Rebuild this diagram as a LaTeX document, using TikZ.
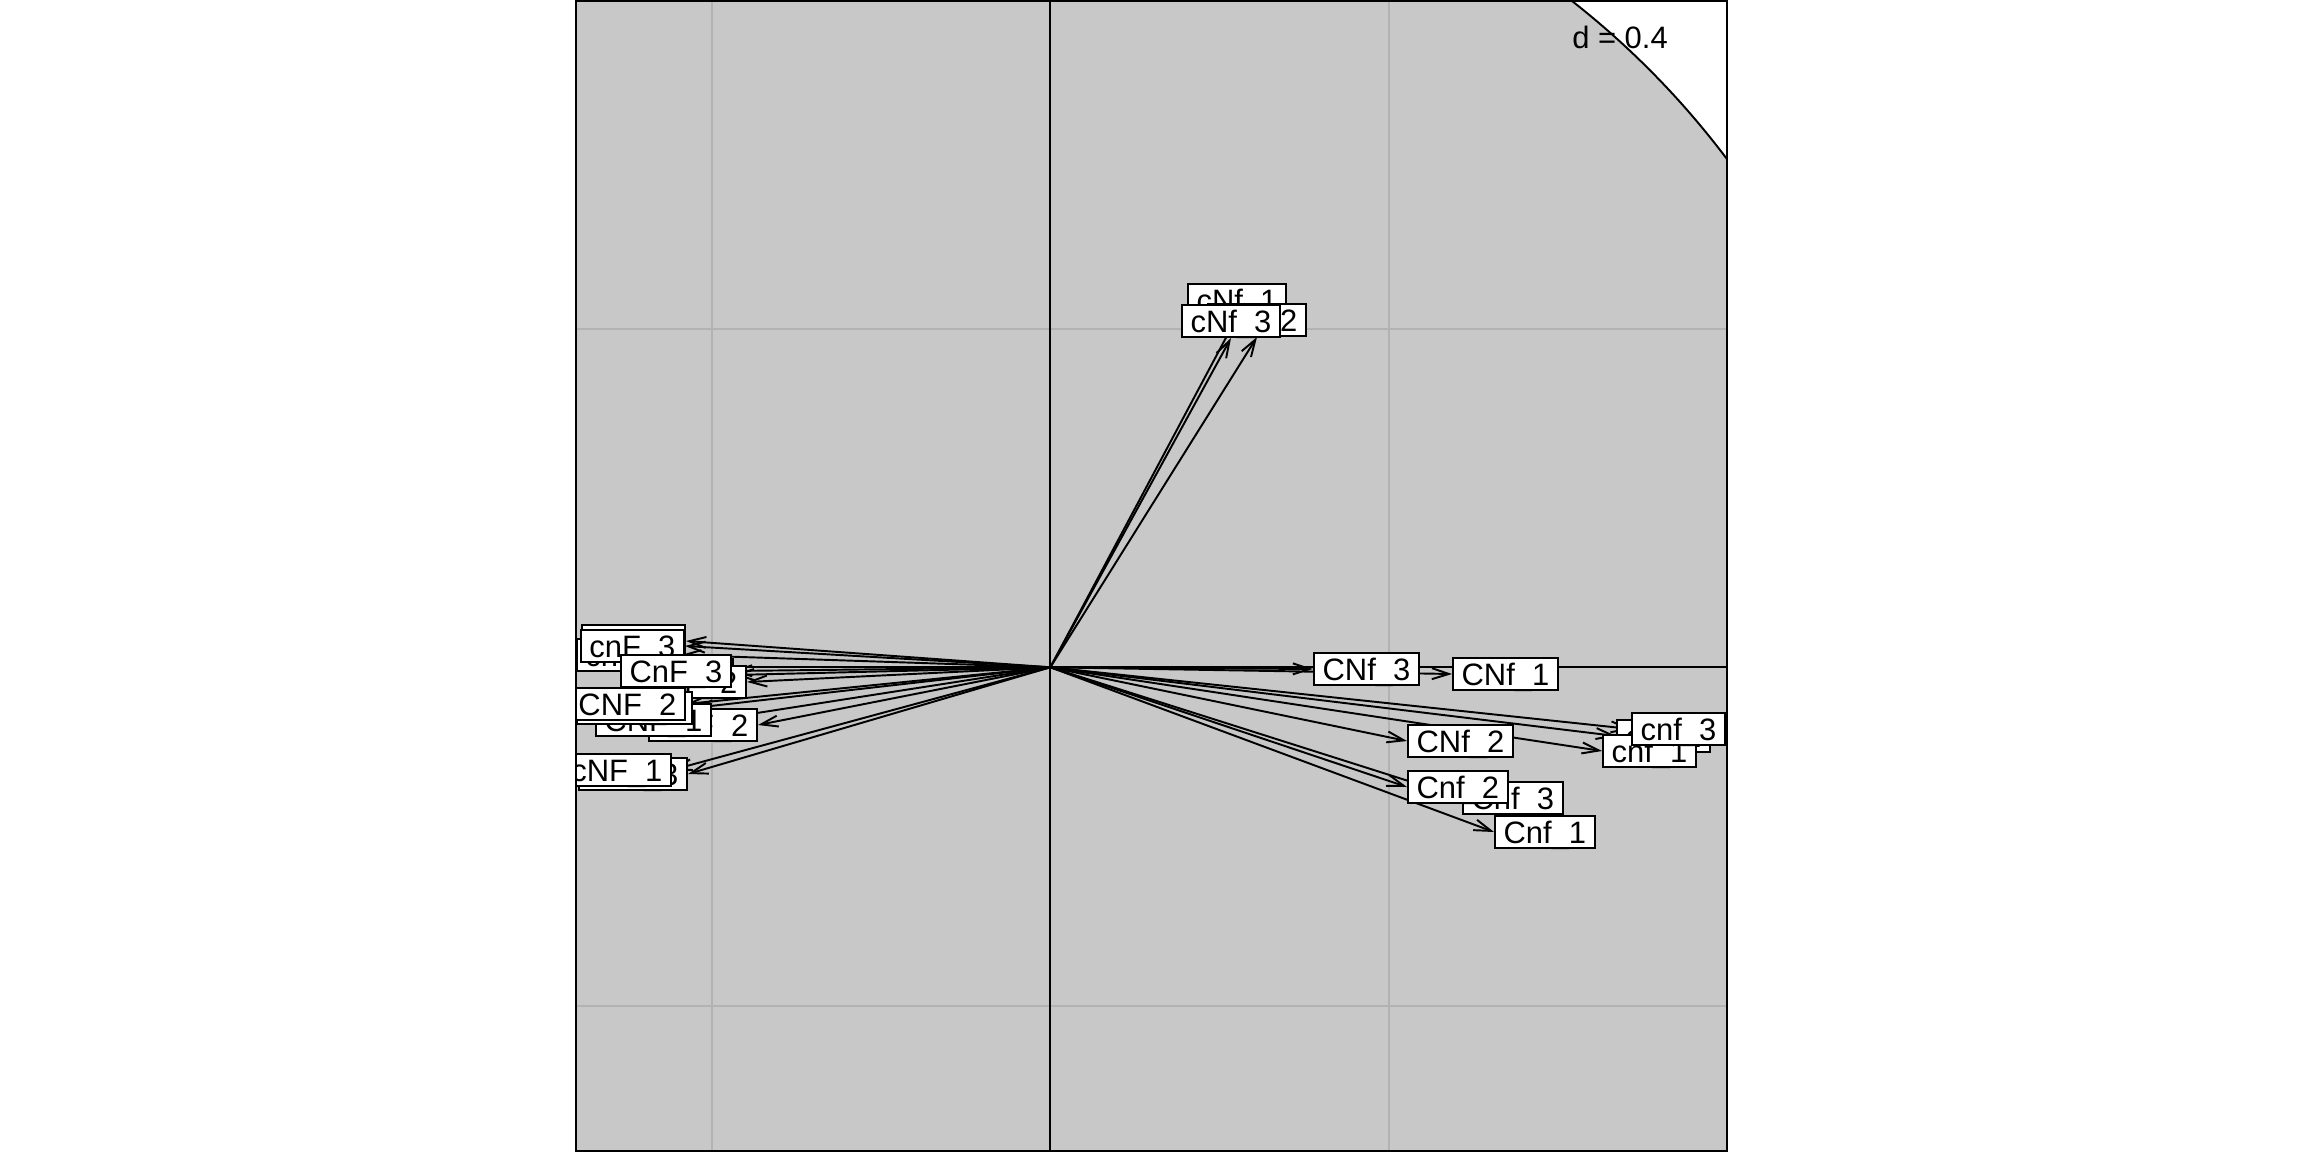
\documentclass[tikz,border=0pt]{standalone}
\usepackage{fontspec}
\setmainfont{Liberation Sans}
\usetikzlibrary{arrows.meta}
\definecolor{circgrey}{RGB}{200,200,200}
\definecolor{gridgrey}{RGB}{178,178,178}
\tikzset{
  lab/.style={draw, fill=white, line width=0.55pt, font=\fontsize{8.8}{10}\selectfont,
    inner xsep=2.45pt, inner ysep=0pt, text height=7.7pt, text depth=1.4pt},
  arr/.style={-{Straight Barb[length=0.17cm,width=0.11cm]}, line width=0.55pt},
}
\begin{document}
\begin{tikzpicture}[x=0.01cm, y=-0.01cm]
\fill[white] (0,0) rectangle (2304,1152);
\useasboundingbox (0,0) rectangle (2304,1152);
\coordinate (O) at (1050.3,667.3);
\begin{scope}
\clip (576,1) rectangle (1727,1151);
%circle
\fill[circgrey] (O) circle[radius=8.457cm];
\draw[line width=0.55pt] (O) circle[radius=8.457cm];
%grid
\draw[gridgrey, line width=0.55pt] (712,0) -- (712,1152)
	(1388.6,0) -- (1388.6,1152)
	(576,329) -- (1727,329)
	(576,1005.6) -- (1727,1005.6);
%axes
\draw[line width=0.55pt] (1050.3,0) -- (1050.3,1152)
	(576,667.3) -- (1727,667.3);
\node[font=\fontsize{8.8}{10}\selectfont] (dlab) at (1620,37) {d = 0.4};
%arrows
\foreach \n/\x/\y in {CNf3/1313/669, CNf1/1452/674, CNf2/1407/741,
	cnf2/1616/736, cnf1/1602/751, cnf3/1631/729,
	Cnf1/1494/832, Cnf3/1462/798, Cnf2/1407/787,
	cNf1/1237/317, cNf2/1257/337, cNf3/1231/338,
	cnF1/686/641, cnF2/681/655, cnF3/685/646,
	CnF1/734/675, CnF2/747/682, CnF3/732/671,
	cNF2/758/725, CNF1/712/720, CNF3/693/708, CNF2/686/704,
	cNF3/688/774, cNF1/672/770}
	{\coordinate (\n) at (\x,\y);
	\draw[arr] (O) -- (\n);}
%labels
\foreach \n/\a/\t in {CNf3/west/CNf\_3, CNf1/west/CNf\_1, CNf2/west/CNf\_2,
	cnf2/west/cnf\_2, cnf1/west/cnf\_1, cnf3/west/cnf\_3,
	Cnf1/west/Cnf\_1, Cnf3/west/Cnf\_3, Cnf2/west/Cnf\_2,
	cNf1/south/cNf\_1, cNf2/south/cNf\_2, cNf3/south/cNf\_3,
	cnF1/east/cnF\_1, cnF2/east/cnF\_2, cnF3/east/cnF\_3,
	CnF1/east/CnF\_1, CnF2/east/CnF\_2, CnF3/east/CnF\_3,
	cNF2/east/cNF\_2, CNF1/east/CNF\_1, CNF3/east/CNF\_3, CNF2/east/CNF\_2,
	cNF3/east/cNF\_3, cNF1/east/cNF\_1}
	\node[lab, anchor=\a] (l\n) at (\n) {\t};
\end{scope}
%frame
\draw[line width=0.7pt] (576,1) rectangle (1727,1151);
\end{tikzpicture}
\end{document}
